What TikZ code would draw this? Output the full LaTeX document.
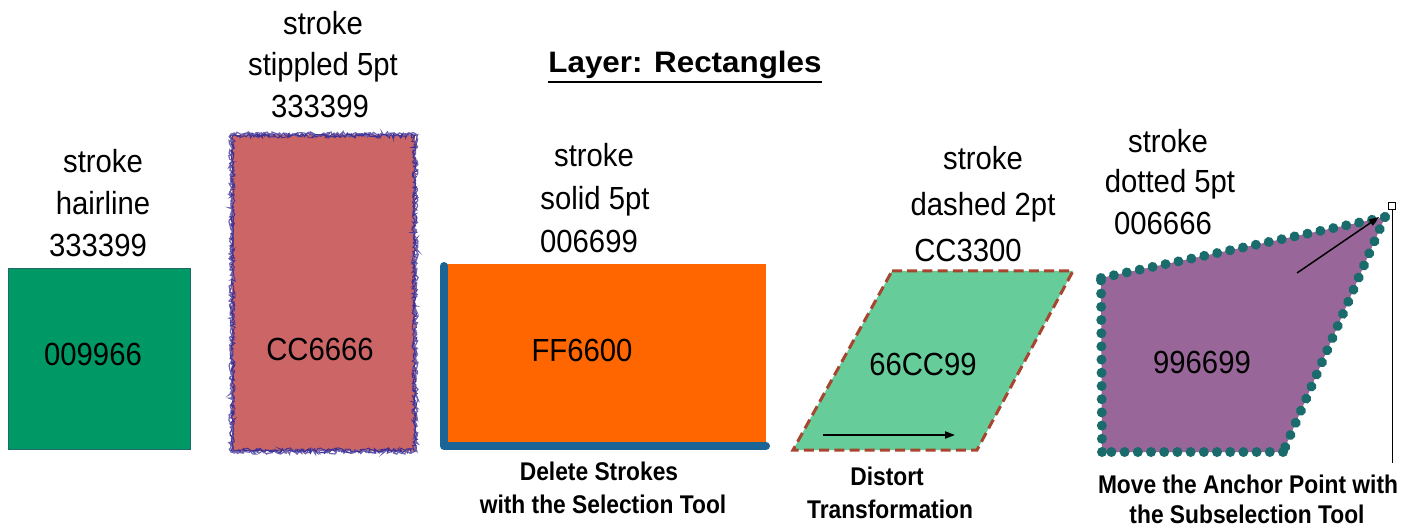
\documentclass[tikz,border=0pt]{standalone}
\usepackage{fontspec}
\setmainfont{Liberation Sans}
\newfontfamily\regf[FakeStretch=0.915]{Liberation Sans}
\newfontfamily\notef[FakeStretch=0.89]{Liberation Sans}
\newfontfamily\titlef[FakeStretch=1.06]{Liberation Sans}
\usetikzlibrary{arrows.meta,decorations.pathmorphing,decorations.markings}
\definecolor{cGreen}{HTML}{009966}
\definecolor{cGreenEdge}{HTML}{1F6B6B}
\definecolor{cRed}{HTML}{CC6666}
\definecolor{cStip}{HTML}{3F3294}
\definecolor{cOrange}{HTML}{FF6600}
\definecolor{cBlue}{HTML}{1A6596}
\definecolor{cMint}{HTML}{66CC99}
\definecolor{cDash}{HTML}{A84530}
\definecolor{cPurple}{HTML}{996699}
\definecolor{cTeal}{HTML}{1A6B6B}
\tikzset{
  lbl/.style={anchor=base, inner sep=0pt, font=\regf\fontsize{16}{19}\selectfont},
  val/.style={anchor=base, inner sep=0pt, font=\regf\fontsize{16}{19}\selectfont},
  note/.style={anchor=base, inner sep=0pt, font=\notef\bfseries\fontsize{12.8}{15}\selectfont},
  ptr/.style={line width=0.75pt, -{Triangle[length=5pt,width=3.6pt]}},
  stip/.style={draw=cStip, line width=0.6pt, decorate,
    decoration={random steps, segment length=0.9pt, amplitude=1.1pt}},
  dotline/.style={decorate, decoration={markings,
    mark=between positions 0 and 1 step 6.6pt with {\fill[cTeal] (0pt,0pt) circle [radius=2.5pt];}}},
}
\begin{document}
\begin{tikzpicture}[x=0.5pt,y=-0.5pt]
\useasboundingbox (0,0) rectangle (1414,529);

% title
\node[anchor=base, inner sep=0pt, font=\titlef\bfseries\fontsize{14.8}{17}\selectfont] (title) at (685,73) {Layer: Rectangles};
\draw[line width=1pt] ([yshift=-4.5pt]title.base west) -- ([yshift=-4.5pt]title.base east);

% 1 green square, hairline stroke
\fill[cGreen] (8,269) rectangle (190,449);
\draw[cGreenEdge, line width=0.5pt] (8,269) rectangle (190,449);
\node[val] (v1) at (93,365) {009966};
\node[lbl] (l1a) at (103,173) {stroke};
\node[lbl] (l1b) at (103,215) {hairline};
\node[lbl] (l1c) at (98,257) {333399};

% 2 red rectangle, stippled stroke
\fill[cRed] (232,135) rectangle (415,451);
\pgfmathsetseed{11}
\draw[stip] (232,135) -- (415,135) -- (415,451) -- (232,451) -- cycle;
\pgfmathsetseed{37}
\draw[stip, draw=cStip!75!white] (231,134) -- (416,134) -- (416,452) -- (231,452) -- cycle;
\pgfmathsetseed{73}
\draw[stip, line width=0.45pt] (233,136) -- (414,136) -- (414,450) -- (233,450) -- cycle;
\node[val] (v2) at (320,360) {CC6666};
\node[lbl] (l2a) at (323,35) {stroke};
\node[lbl] (l2b) at (323,76) {stippled 5pt};
\node[lbl] (l2c) at (320,118) {333399};

% 3 orange rectangle, two strokes left
\fill[cOrange] (444,264) rectangle (766,444);
\draw[cBlue, line width=4pt, line cap=round, line join=round] (444,266) -- (444,446) -- (766,446);
\node[val] (v3) at (582,362) {FF6600};
\node[lbl] (l3a) at (594,167) {stroke};
\node[lbl] (l3b) at (595,210) {solid 5pt};
\node[lbl] (l3c) at (589,253) {006699};
\node[note] (n3a) at (599,480) {Delete Strokes};
\node[note] (n3b) at (603,513) {with the Selection Tool};

% 4 parallelogram, dashed stroke
\fill[cMint] (892,271) -- (1073,271) -- (977,450) -- (793,450) -- cycle;
\draw[cDash, line width=1.5pt, dash pattern=on 5pt off 2.6pt] (892,271) -- (1073,271) -- (977,450) -- (793,450) -- cycle;
\node[val] (v4) at (923,375) {66CC99};
\coordinate (d0) at (823,435);
\coordinate (d1) at (955,435);
\draw[ptr] (d0) -- (d1);
\node[lbl] (l4a) at (983,170) {stroke};
\node[lbl] (l4b) at (983,216) {dashed 2pt};
\node[lbl] (l4c) at (968,262) {CC3300};
\node[note] (n4a) at (887,485) {Distort};
\node[note] (n4b) at (890,518) {Transformation};

% 5 purple quadrilateral, dotted stroke
\fill[cPurple] (1101,278) -- (1385,217) -- (1283,452) -- (1102,452) -- cycle;
\path[dotline] (1101,278) -- (1385,217);
\path[dotline] (1385,217) -- (1283,452);
\path[dotline] (1283,452) -- (1102,452);
\path[dotline] (1102,452) -- (1101,278);
\node[val] (v5) at (1202,373) {996699};
\coordinate (m0) at (1297,273);
\coordinate (m1) at (1379,217);
\draw[ptr] (m0) -- (m1);
\node[draw=black, fill=white, line width=0.5pt, minimum size=3.2pt, inner sep=0pt] (anc) at (1392,206) {};
\coordinate (ancfoot) at (1392,463);
\draw[line width=0.5pt] (anc.south) -- (ancfoot);
\node[lbl] (l5a) at (1168,153) {stroke};
\node[lbl] (l5b) at (1170,193) {dotted 5pt};
\node[lbl] (l5c) at (1163,235) {006666};
\node[note] (n5a) at (1248,493) {Move the Anchor Point with};
\node[note] (n5b) at (1247,523) {the Subselection Tool};
\end{tikzpicture}
\end{document}
